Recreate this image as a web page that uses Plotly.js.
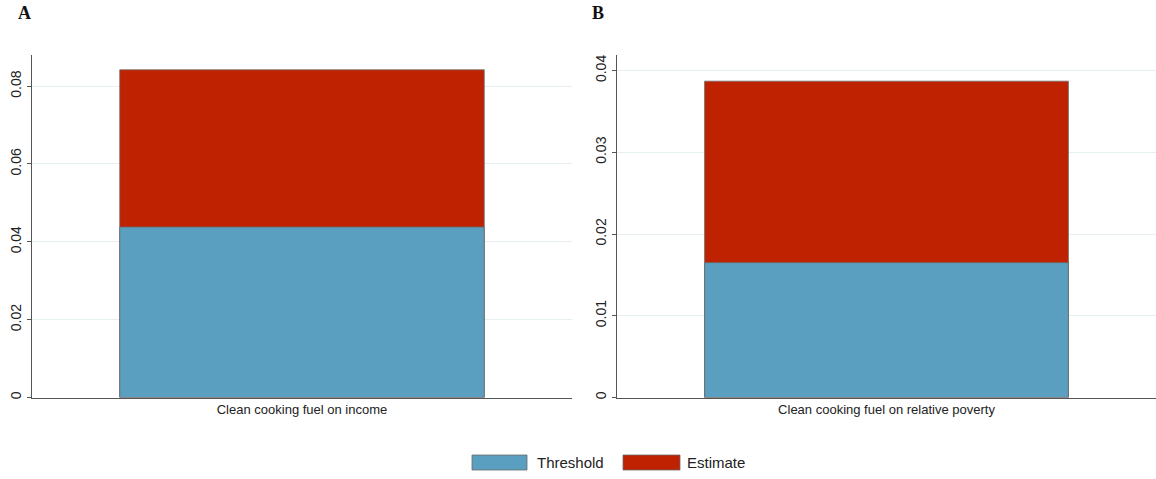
<!DOCTYPE html>
<html>
<head>
<meta charset="utf-8">
<script src="https://cdn.plot.ly/plotly-3.0.1.min.js"></script>
<style>
  html, body { margin: 0; padding: 0; background: #fff; }
  #chart { width: 1156px; height: 479px; }
</style>
</head>
<body>
<div id="chart"></div>
<script>
// Outcome labels, one per panel
const panelCategories = ['Clean cooking fuel on income', 'Clean cooking fuel on relative poverty'];
const panelLetters = ['A', 'B'];
// Estimated effect (full bar height) and threshold (lower segment)
const estimateValues = [0.0842, 0.0387];
const thresholdValues = [0.0438, 0.0165];
// Y-axis ticks per panel
const tickValsA = [0, 0.02, 0.04, 0.06, 0.08];
const tickTextA = ['0', '0.02', '0.04', '0.06', '0.08'];
const tickValsB = [0, 0.01, 0.02, 0.03, 0.04];
const tickTextB = ['0', '0.01', '0.02', '0.03', '0.04'];
const seriesNames = ['Threshold', 'Estimate'];

const blue = '#5A9FBF';
const red = '#BF2200';
const edge = '#6b6b6b';
const W = 1156, H = 479;

const traces = [];
panelCategories.forEach((cat, i) => {
  const ax = i === 0 ? '' : '2';
  traces.push({
    type: 'bar', x: [cat], y: [estimateValues[i]], name: seriesNames[1],
    xaxis: 'x' + ax, yaxis: 'y' + ax, width: 0.675, showlegend: false,
    marker: { color: red, line: { color: edge, width: 0.8 } }, hoverinfo: 'y'
  });
  traces.push({
    type: 'bar', x: [cat], y: [thresholdValues[i]], name: seriesNames[0],
    xaxis: 'x' + ax, yaxis: 'y' + ax, width: 0.675, showlegend: false,
    marker: { color: blue, line: { color: edge, width: 0.8 } }, hoverinfo: 'y'
  });
});

const yCommon = {
  domain: [81.5 / H, 424 / H],
  showline: true, linecolor: '#555', linewidth: 1,
  ticks: 'outside', ticklen: 4, tickcolor: '#555', tickwidth: 1,
  tickangle: -90, tickmode: 'array',
  gridcolor: '#E6F0F2', gridwidth: 1, zeroline: false,
  tickfont: { family: 'Liberation Sans, Arial, sans-serif', size: 14, color: '#222' }
};
const xCommon = {
  type: 'category', range: [-0.5, 0.5],
  showline: true, linecolor: '#555', linewidth: 1, ticks: '',
  showgrid: false, zeroline: false,
  tickfont: { family: 'Liberation Sans, Arial, sans-serif', size: 13, color: '#222' }
};

// Wide legend keys drawn under both panels
const legendShapes = [
  { x0: 472, x1: 527, color: blue },
  { x0: 623, x1: 680, color: red }
].map(k => ({
  type: 'rect', xref: 'paper', yref: 'paper',
  x0: k.x0 / W, x1: k.x1 / W, y0: 1 - 470 / H, y1: 1 - 455 / H,
  fillcolor: k.color, line: { color: edge, width: 0.8 }
}));

const annotations = [
  { text: seriesNames[0], x: 535 / W, y: 1 - 462.5 / H },
  { text: seriesNames[1], x: 685 / W, y: 1 - 462.5 / H }
].map(a => ({
  text: a.text, xref: 'paper', yref: 'paper', x: a.x, y: a.y,
  xanchor: 'left', yanchor: 'middle', showarrow: false,
  font: { family: 'Liberation Sans, Arial, sans-serif', size: 15, color: '#222' }
}));
[{ x: 16 / W }, { x: 590 / W }].forEach((p, i) => {
  annotations.push({
    text: '<b>' + panelLetters[i] + '</b>', xref: 'paper', yref: 'paper',
    x: p.x, y: 1 - 1 / H, xanchor: 'left', yanchor: 'top', showarrow: false,
    font: { family: 'Liberation Serif, Times New Roman, serif', size: 18, color: '#111' }
  });
});

const layout = {
  width: W, height: H,
  margin: { l: 0, r: 0, t: 0, b: 0 },
  paper_bgcolor: '#fff', plot_bgcolor: '#fff',
  barmode: 'overlay', showlegend: false,
  xaxis: Object.assign({}, xCommon, { domain: [32 / W, 572 / W], anchor: 'y' }),
  xaxis2: Object.assign({}, xCommon, { domain: [617 / W, 1], anchor: 'y2' }),
  yaxis: Object.assign({}, yCommon, { range: [0, 0.088], tickvals: tickValsA, ticktext: tickTextA, anchor: 'x' }),
  yaxis2: Object.assign({}, yCommon, { range: [0, 0.0419], tickvals: tickValsB, ticktext: tickTextB, anchor: 'x2' }),
  shapes: legendShapes,
  annotations: annotations
};

Plotly.newPlot('chart', traces, layout, { displayModeBar: false, staticPlot: true });
</script>
</body>
</html>
